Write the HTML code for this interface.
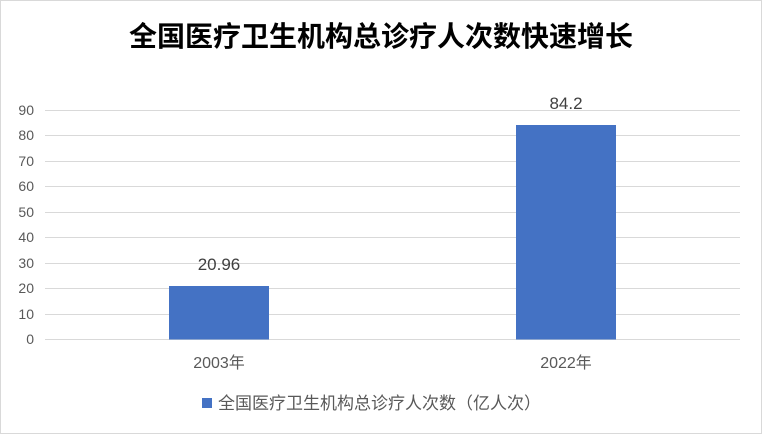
<!DOCTYPE html>
<html><head><meta charset="utf-8"><style>
body{margin:0;background:#fff;}
svg{display:block;font-family:"Liberation Sans","Noto Sans CJK SC",sans-serif;}
</style></head><body>
<svg width="762" height="434" viewBox="0 0 762 434">
<rect x="0.5" y="0.5" width="761" height="433" fill="#fff" stroke="#d9d9d9"/>
<text x="381" y="46" text-anchor="middle" font-size="28" font-weight="bold" fill="#000">全国医疗卫生机构总诊疗人次数快速增长</text>
<g stroke="#d9d9d9" stroke-width="1">
<line x1="45" x2="740" y1="110.5" y2="110.5"/>
<line x1="45" x2="740" y1="135.5" y2="135.5"/>
<line x1="45" x2="740" y1="161.5" y2="161.5"/>
<line x1="45" x2="740" y1="186.5" y2="186.5"/>
<line x1="45" x2="740" y1="212.5" y2="212.5"/>
<line x1="45" x2="740" y1="237.5" y2="237.5"/>
<line x1="45" x2="740" y1="263.5" y2="263.5"/>
<line x1="45" x2="740" y1="288.5" y2="288.5"/>
<line x1="45" x2="740" y1="314.5" y2="314.5"/>
<line x1="45" x2="740" y1="339.5" y2="339.5"/>
</g>
<g font-size="14" fill="#595959" text-anchor="end">
<text x="34" y="115">90</text><text x="34" y="140">80</text><text x="34" y="166">70</text>
<text x="34" y="191">60</text><text x="34" y="217">50</text><text x="34" y="242">40</text>
<text x="34" y="268">30</text><text x="34" y="293">20</text><text x="34" y="319">10</text>
<text x="34" y="344">0</text>
</g>
<rect x="169" y="286" width="100" height="53.5" fill="#4472c4"/>
<rect x="516" y="125" width="100" height="214.5" fill="#4472c4"/>
<text x="219" y="270" text-anchor="middle" font-size="17" fill="#404040">20.96</text>
<text x="566" y="109" text-anchor="middle" font-size="17" fill="#404040">84.2</text>
<text x="219" y="368" text-anchor="middle" font-size="16" fill="#595959">2003年</text>
<text x="566" y="368" text-anchor="middle" font-size="16" fill="#595959">2022年</text>
<rect x="202" y="398" width="10" height="10" fill="#4472c4"/>
<text x="218" y="409" font-size="17" fill="#595959">全国医疗卫生机构总诊疗人次数（亿人次）</text>
</svg>
</body></html>
